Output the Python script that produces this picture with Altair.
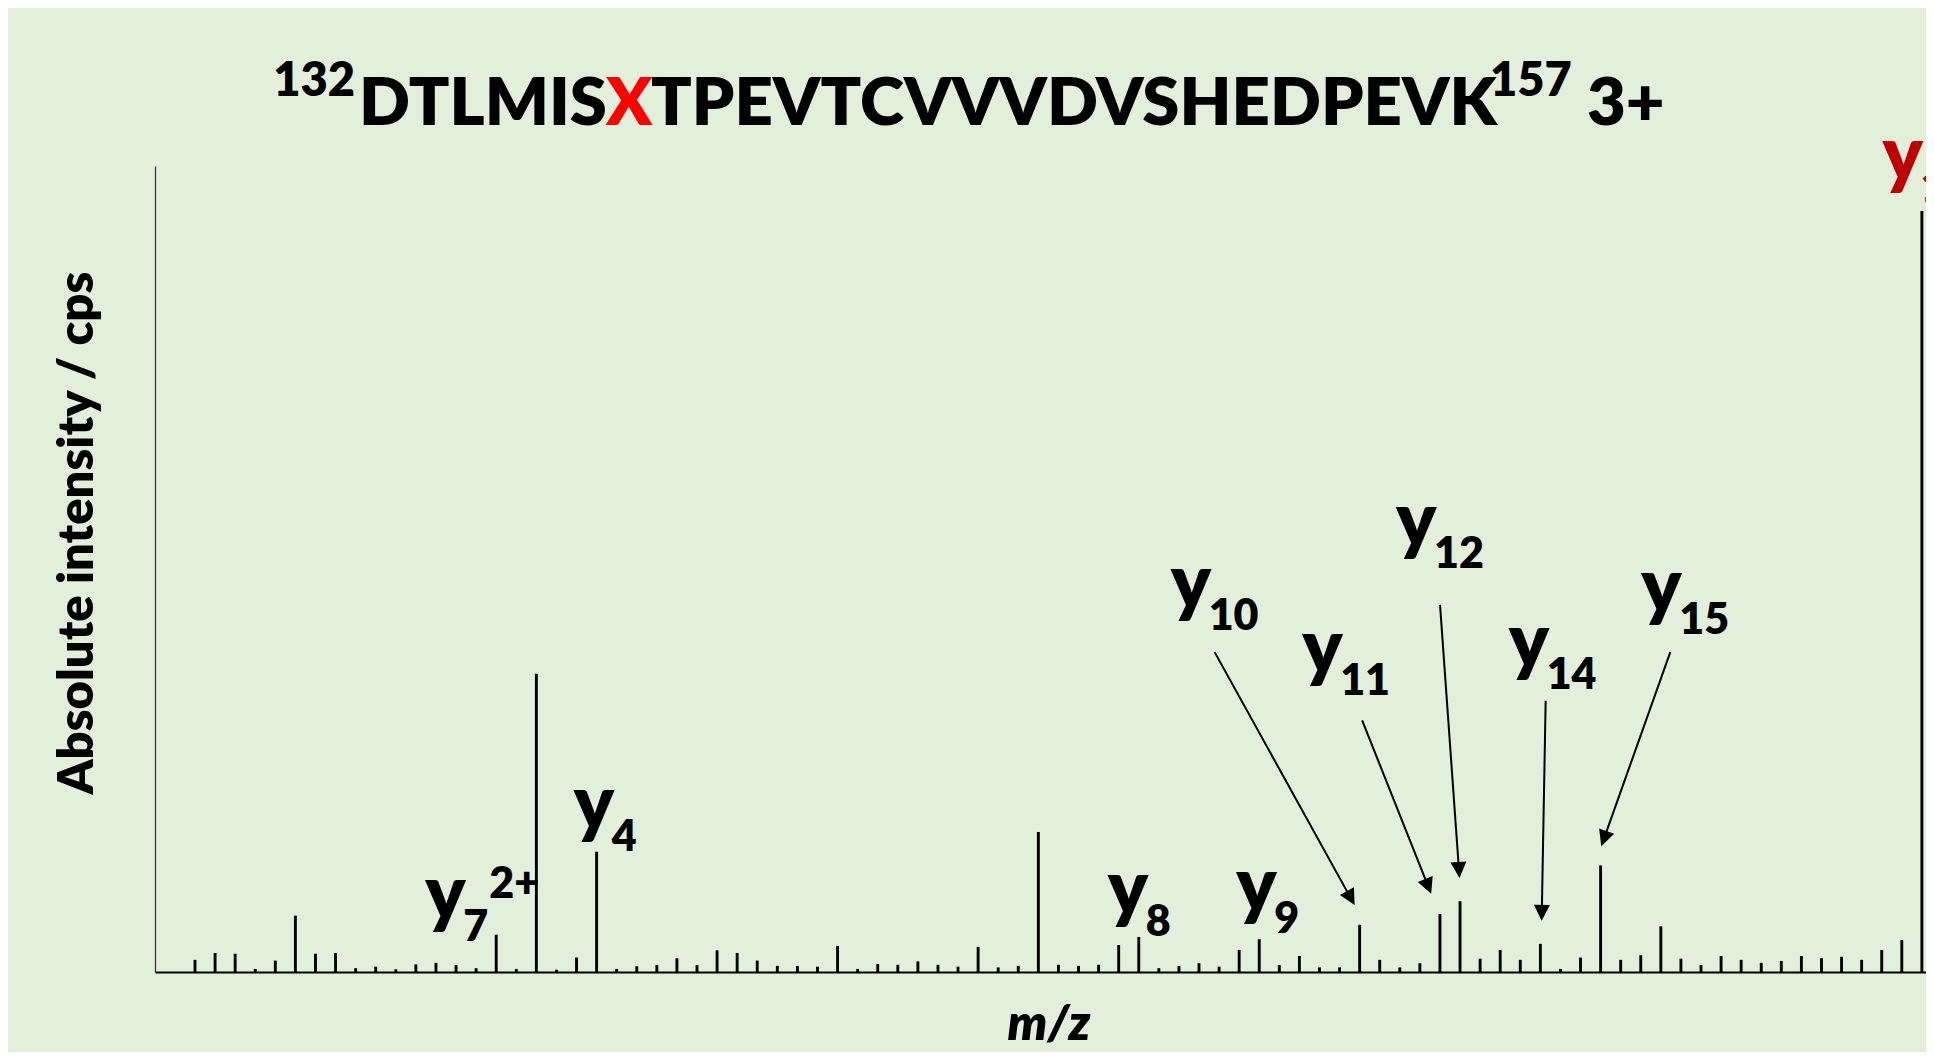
import math
import altair as alt
import pandas as pd

# ---------------- data ----------------
# relative intensity (%) of each fragment peak, in m/z order (evenly spaced schematic)
intensity = [
    1.6, 2.5, 2.4, 0.4, 1.5, 7.4, 2.4, 2.5, 0.5, 0.7,
    0.35, 1.0, 1.2, 0.9, 0.5, 4.9, 0.4, 39.2, 0.3, 1.9,
    15.8, 0.4, 0.75, 0.9, 1.8, 0.9, 2.85, 2.5, 1.5, 0.8,
    0.8, 0.7, 3.4, 0.4, 1.05, 0.95, 1.4, 0.95, 0.7, 3.3,
    0.6, 0.8, 18.4, 0.95, 0.8, 0.95, 3.55, 4.6, 0.5, 0.8,
    1.15, 0.7, 2.9, 4.3, 0.9, 2.1, 0.6, 0.6, 6.2, 1.6,
    0.6, 1.15, 7.6, 9.3, 1.75, 2.9, 1.6, 3.7, 0.4, 1.9,
    14.0, 1.6, 2.2, 6.0, 1.75, 0.9, 2.1, 1.6, 1.2, 1.45,
    2.1, 1.8, 2.0, 1.6, 2.9, 4.2, 100.0,
]
peak_pos = list(range(len(intensity)))

ion_name = ["y7", "y4", "y8", "y9", "y10", "y11", "y12", "y14", "y15", "y1"]
ion_peak = [15, 20, 47, 53, 58, 62, 63, 67, 70, 86]
ion_sub = ["7", "4", "8", "9", "10", "11", "12", "14", "15", "1"]
ion_sup = ["2+", "", "", "", "", "", "", "", "", ""]
ion_color = ["#000000"] * 9 + ["#C00000"]
arrowed = ["y10", "y11", "y12", "y14", "y15"]

title_pre = "132"
title_a = "DTLMIS"
title_x = "X"
title_b = "TPEVTCVVVDVSHEDPEVK"
title_post = "157"
title_charge = "3+"
y_title = "Absolute intensity / cps"
x_title = "m/z"

# ---------------- layout ----------------
FONT = "Lato"
WEIGHT = 800
PLOT_W, PLOT_H = 1771, 806
PAD = {"left": 147, "top": 158, "right": 0, "bottom": 80}
PX_PER_PEAK = 20.08
X0 = -40 / PX_PER_PEAK
X1 = X0 + PLOT_W / PX_PER_PEAK
Y_MAX = 105.9
PX_PER_UNIT = PLOT_H / Y_MAX

# label glyph offsets (px) relative to the top of the labelled peak
label_off = {
    "y7": (-70.9, -16.2), "y4": (-22.8, -22.5), "y8": (-31, -23.2), "y9": (-23, -28),
    "y10": (-189, -317.2), "y11": (-137.8, -240.8), "y12": (-64, -354.8),
    "y14": (-31.7, -276.5), "y15": (40.7, -253.8), "y1": (-39.3, -31),
}
arrow_off = {
    "y10": ((-145, -272.7), (-5, -19.7)),
    "y11": ((-77.8, -193.8), (-8.8, -20.3)),
    "y12": ((-20, -296.3), (-0.5, -23.3)),
    "y14": ((5.3, -243), (1.3, -23)),
    "y15": ((69.7, -213.3), (0.7, -19.3)),
}
SUB_DX, SUB_DY = 38, 22
SUP_DX, SUP_DY = 64, -20.5
Y_SIZE, SUB_SIZE = 75, 43
HEAD_LEN = 16


def to_x(k, dx):
    return k + dx / PX_PER_PEAK


def to_y(v, dy):
    return v - dy / PX_PER_UNIT


peaks = pd.DataFrame({"pos": peak_pos, "inten": intensity, "zero": [0] * len(intensity)})

rows_main, rows_sub, rows_sup = [], [], []
for name, k, sub, sup, col in zip(ion_name, ion_peak, ion_sub, ion_sup, ion_color):
    v = intensity[k]
    dx, dy = label_off[name]
    rows_main.append({"x": to_x(k, dx), "y": to_y(v, dy), "t": "y", "c": col})
    rows_sub.append({"x": to_x(k, dx + SUB_DX), "y": to_y(v, dy + SUB_DY), "t": sub, "c": col})
    if sup:
        rows_sup.append({"x": to_x(k, dx + SUP_DX), "y": to_y(v, dy + SUP_DY), "t": sup, "c": col})

shafts, heads = [], []
for name in arrowed:
    k = ion_peak[ion_name.index(name)]
    v = intensity[k]
    (sx, sy), (tx, ty) = arrow_off[name]
    ux, uy = tx - sx, ty - sy
    L = math.hypot(ux, uy)
    ux, uy = ux / L, uy / L
    ex, ey = tx - ux * (HEAD_LEN - 4), ty - uy * (HEAD_LEN - 4)
    shafts.append({"x": to_x(k, sx), "y": to_y(v, sy), "x2": to_x(k, ex), "y2": to_y(v, ey)})
    ang = math.degrees(math.atan2(-ux, uy)) % 360
    heads.append({"x": to_x(k, tx), "y": to_y(v, ty), "ang": ang})

x_scale = alt.Scale(domain=[X0, X1], nice=False, zero=False)
y_scale = alt.Scale(domain=[0, Y_MAX], nice=False, zero=False)
x_axis = alt.Axis(title=None, labels=False, ticks=False, grid=False,
                  domainColor="#000000", domainWidth=2)
y_axis = alt.Axis(title=None, labels=False, ticks=False, grid=False,
                  domainColor="#3a3a3a", domainWidth=1.3)


def X(f):
    return alt.X(f"{f}:Q", scale=x_scale, axis=x_axis)


def Y(f):
    return alt.Y(f"{f}:Q", scale=y_scale, axis=y_axis)


peak_layer = alt.Chart(peaks).mark_rule(color="#000000", strokeWidth=2.9, strokeCap="butt").encode(
    x=X("pos"), y=Y("zero"), y2=alt.Y2("inten")
)


def text_layer(rows, size):
    return alt.Chart(pd.DataFrame(rows)).mark_text(
        font=FONT, fontWeight=WEIGHT, fontSize=size, align="left", baseline="alphabetic"
    ).encode(x=X("x"), y=Y("y"), text="t:N", color=alt.Color("c:N", scale=None))


main_layer = text_layer(rows_main, Y_SIZE)
sub_layer = text_layer(rows_sub, SUB_SIZE)
sup_layer = text_layer(rows_sup, SUB_SIZE)

shaft_layer = alt.Chart(pd.DataFrame(shafts)).mark_rule(color="#000000", strokeWidth=2).encode(
    x=X("x"), y=Y("y"), x2=alt.X2("x2"), y2=alt.Y2("y2")
)
head_layer = alt.Chart(pd.DataFrame(heads)).mark_point(
    shape="M0,0L-0.5,-1L0.5,-1Z", filled=True, color="#000000", opacity=1, size=HEAD_LEN * HEAD_LEN * 4
).encode(x=X("x"), y=Y("y"), angle=alt.Angle("ang:Q", scale=None))


def free_text(txt, px, py, size, align="left", color="#000000", angle=0, style="normal"):
    ch = alt.Chart(pd.DataFrame({"t": [txt]})).mark_text(
        font=FONT, fontWeight=WEIGHT, fontSize=size, align=align, baseline="alphabetic",
        color=color, angle=angle, fontStyle=style,
    )
    return ch.encode(text="t:N", x=alt.value(px), y=alt.value(py))


OX, OY = 155, 166  # page position of the plot origin
TB = 124.5 - OY
SB = 96 - OY
title_layers = [
    free_text(title_pre, 355 - OX, SB, 47, align="right"),
    free_text(title_a, 607 - OX, TB, 67, align="right"),
    free_text(title_x, 629 - OX, TB, 67, align="center", color="#FF0000"),
    free_text(title_b, 651 - OX, TB, 67, align="left"),
    free_text(title_post, 1490 - OX, SB, 47, align="left"),
    free_text(title_charge, 1587 - OX, TB, 67, align="left"),
    free_text(y_title, 93 - OX, 533 - OY, 49, align="center", angle=270),
    free_text(x_title, 1049 - OX, 1040 - OY, 50, align="center", style="italic"),
]

chart = alt.layer(
    peak_layer, shaft_layer, head_layer, main_layer, sub_layer, sup_layer, *title_layers
).properties(
    width=PLOT_W, height=PLOT_H,
    autosize=alt.AutoSizeParams(type="none"),
    padding=PAD,
    background="#E2EFDA",
).configure_view(stroke=None)

chart.save("out.html", embed_options={"renderer": "svg", "actions": False})
